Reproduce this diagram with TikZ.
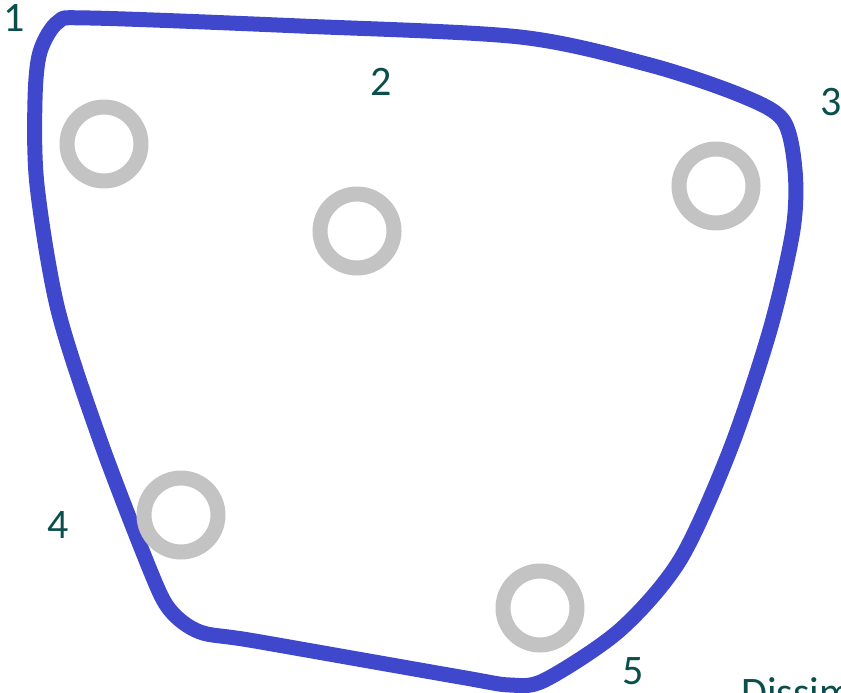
\documentclass[tikz,border=0pt]{standalone}
\usepackage{fontspec}
\setmainfont{Carlito}
\usepackage{tikz}
\usetikzlibrary{calc}

\definecolor{hullblue}{HTML}{3F48CC}
\definecolor{ringgrey}{HTML}{C3C3C3}
\definecolor{labteal}{HTML}{0B4F4C}

\begin{document}
\begin{tikzpicture}[x=1pt, y=-1pt,
    hull/.style={draw=hullblue, line width=15pt, line join=round},
    ring/.style={draw=ringgrey, line width=15pt},
    numlab/.style={text=labteal, inner sep=0pt, font=\fontsize{42}{42}\selectfont}]
        % Khung ảnh
        \useasboundingbox (0,0) rectangle (841,693);
        \clip (0,0) rectangle (841,693);

        % Đường bao màu xanh
        \draw[hull] plot[smooth cycle, tension=0.5] coordinates {
            (90,18) (300,26) (520,37) (650,65) (740,95) (783,120)
            (795,170) (793,230) (770,330) (730,450) (680,560) (620,630)
            (545,680) (510,685) (460,677) (255,641) (200,632) (170,610)
            (150,570) (100,440) (58,310) (37,185) (35,100) (40,52) (58,22)};

        % Các vòng tròn xám
        \draw[ring] (104,144) circle (37);
        \draw[ring] (357,231) circle (37);
        \draw[ring] (716,186) circle (37);
        \draw[ring] (181,515) circle (37);
        \draw[ring] (540,608) circle (37);

        % Nhãn số
        \node[numlab] (n1) at (14,18) {1};
        \node[numlab] (n2) at (381,82) {2};
        \node[numlab] (n3) at (831,102) {3};
        \node[numlab] (n4) at (58,525) {4};
        \node[numlab] (n5) at (633,671) {5};

        % Chữ bị cắt ở góc dưới
        \node[numlab, anchor=base west] (dis) at (741,706) {Dissim};
    \end{tikzpicture}
\end{document}
